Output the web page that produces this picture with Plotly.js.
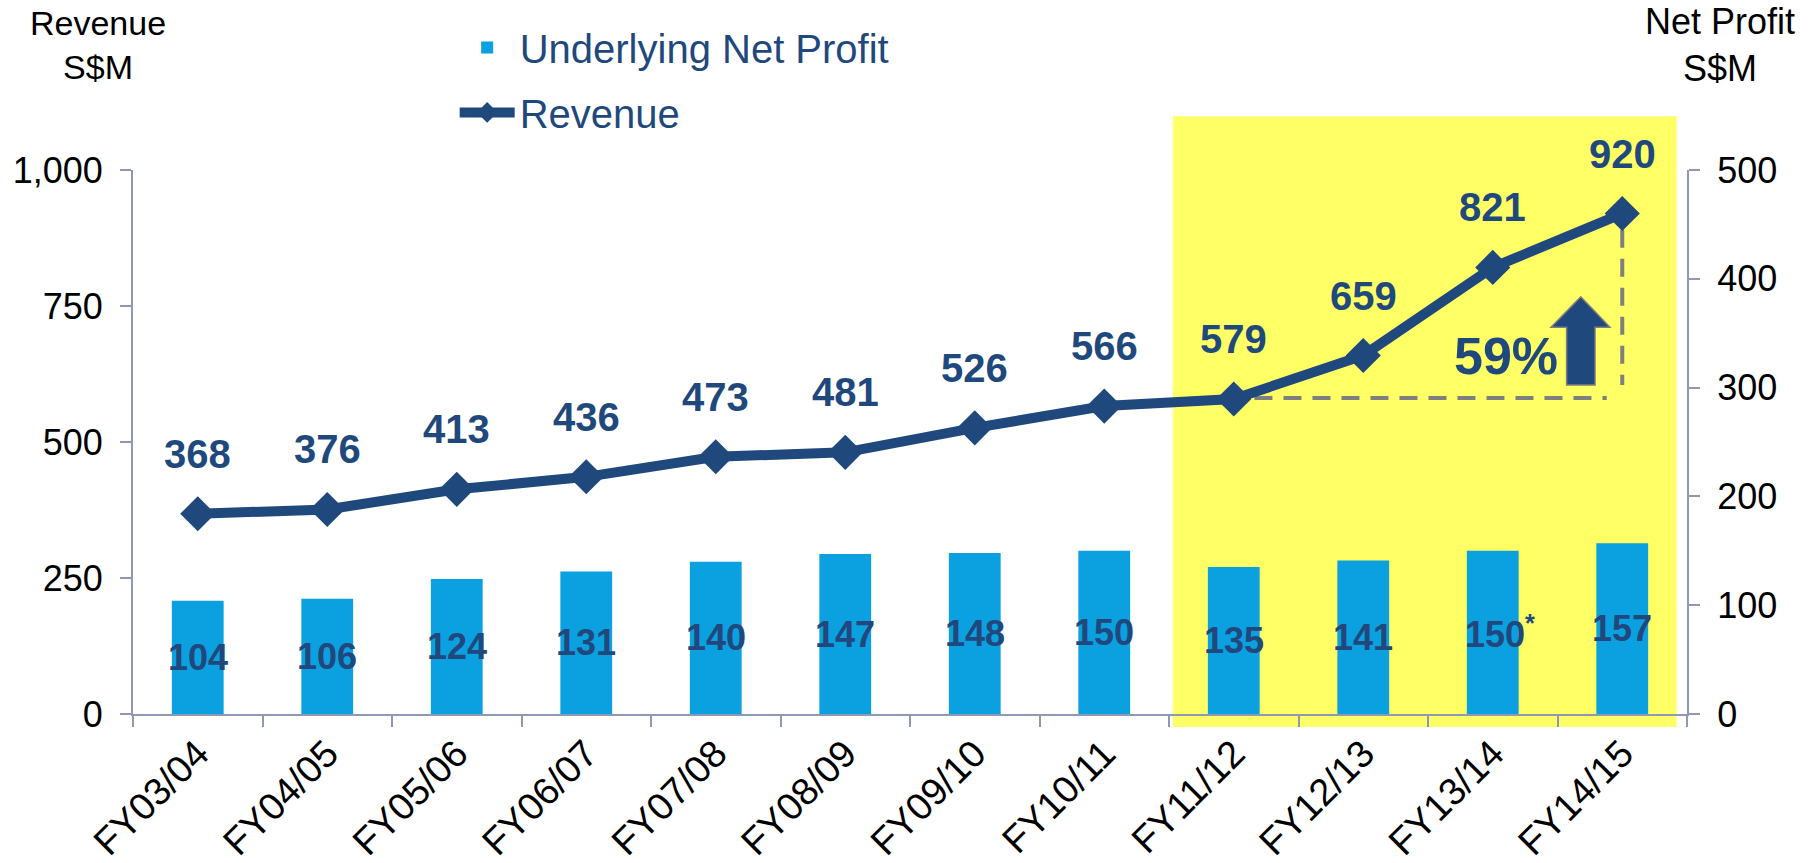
<!DOCTYPE html>
<html>
<head>
<meta charset="utf-8">
<script src="https://cdn.plot.ly/plotly-3.0.1.min.js"></script>
<style>
  html, body { margin: 0; padding: 0; background: #fff; }
  #chart { width: 1817px; height: 863px; }
</style>
</head>
<body>
<div id="chart"></div>
<script>
// Revenue (left axis) and underlying net profit (right axis), S$M
const years = ['FY03/04', 'FY04/05', 'FY05/06', 'FY06/07', 'FY07/08', 'FY08/09',
               'FY09/10', 'FY10/11', 'FY11/12', 'FY12/13', 'FY13/14', 'FY14/15'];
const revenue = [368, 376, 413, 436, 473, 481, 526, 566, 579, 659, 821, 920];
const netProfit = [104, 106, 124, 131, 140, 147, 148, 150, 135, 141, 150, 157];
const profitNotes = ['', '', '', '', '', '', '', '', '', '', '*', ''];
const highlightFrom = 'FY11/12';
const growthText = '59%';

const FONT = 'Liberation Sans, Arial, sans-serif';
const NAVY = '#1f497d';
const BAR_BLUE = '#0ba0df';
const AXIS = '#8f99b5';

const traces = [
    {
        type: 'bar', name: 'Underlying Net Profit', legendgroup: 'a',
        x: years, y: netProfit, yaxis: 'y2', width: 0.4,
        marker: { color: BAR_BLUE },
        hoverinfo: 'skip',
    },
    {
        type: 'scatter', mode: 'lines+markers', name: 'Revenue', legendgroup: 'b',
        x: years, y: revenue,
        line: { color: NAVY, width: 10 },
        marker: { symbol: 'diamond', size: 27, color: NAVY },
        cliponaxis: false,
        hoverinfo: 'skip',
    },
];

const annotations = [];
revenue.forEach((v, i) => annotations.push({
    x: i, y: v, xref: 'x', yref: 'y', yshift: 60, showarrow: false,
    text: String(v), font: { family: FONT, size: 40, color: NAVY, weight: 'bold' },
}));
netProfit.forEach((v, i) => annotations.push({
    x: i, y: v / 2, xref: 'x', yref: 'y2', showarrow: false,
    xshift: profitNotes[i] ? 7 : 0,
    text: v + (profitNotes[i] ? '<sup>' + profitNotes[i] + '</sup>' : ''),
    font: { family: FONT, size: 36, color: '#21477c', weight: 'bold' },
}));
annotations.push(
    { text: 'Revenue<br>S$M', xref: 'paper', yref: 'paper', x: -0.0225, y: 1.23,
      xanchor: 'center', yanchor: 'middle', showarrow: false,
      font: { family: FONT, size: 34, color: '#000' } },
    { text: 'Net Profit<br>S$M', xref: 'paper', yref: 'paper', x: 1.0212, y: 1.23,
      xanchor: 'center', yanchor: 'middle', showarrow: false,
      font: { family: FONT, size: 36, color: '#000' } },
    { text: growthText, xref: 'x', yref: 'y', x: 10.1, y: 658, showarrow: false,
      font: { family: FONT, size: 52, color: NAVY, weight: 'bold' } },
);

const hi = years.indexOf(highlightFrom);
const last = years.length - 1;
const guide = { color: '#7f7f7f', width: 4, dash: '18px,11px' };
const shapes = [
    // yellow highlight behind the recent years
    { type: 'rect', layer: 'below', xref: 'x', yref: 'paper',
      x0: hi - 0.47, x1: last + 0.42, y0: -0.024, y1: 1.099,
      fillcolor: '#ffff66', line: { width: 0 } },
    // dashed growth guides
    { type: 'line', layer: 'below', xref: 'x', yref: 'y',
      x0: hi + 0.16, x1: last - 0.12, y0: revenue[hi] + 2, y1: revenue[hi] + 2, line: guide },
    { type: 'line', layer: 'below', xref: 'x', yref: 'y',
      x0: last, x1: last, y0: revenue[last] - 30, y1: 605, line: guide },
    // block up-arrow
    { type: 'path', layer: 'above', xref: 'x', yref: 'y',
      path: 'M 10.57 605 L 10.57 711 L 10.45 711 L 10.68 767 L 10.905 711 L 10.79 711 L 10.79 605 Z',
      fillcolor: NAVY, line: { color: '#7f7f7f', width: 1.5 } },
];

const axisStyle = {
    showline: true, linecolor: AXIS, linewidth: 2,
    ticks: 'outside', ticklen: 11, tickcolor: AXIS, tickwidth: 2,
    showgrid: false, zeroline: false, fixedrange: true,
    tickfont: { family: FONT, size: 36, color: '#000' },
};

const layout = {
    width: 1817, height: 863,
    paper_bgcolor: 'white', plot_bgcolor: 'rgba(0,0,0,0)',
    margin: { l: 133, r: 130, t: 170, b: 149 },
    font: { family: FONT, color: '#000' },
    showlegend: true,
    legend: {
        x: 0.207, y: 1.285, xanchor: 'left', yanchor: 'top',
        bgcolor: 'rgba(0,0,0,0)', traceorder: 'grouped', tracegroupgap: 10,
        itemwidth: 55, font: { family: FONT, size: 40, color: NAVY },
    },
    xaxis: {
        ...axisStyle, type: 'category', range: [-0.5, 11.5],
        tickson: 'boundaries', tickangle: -45,
        tickfont: { family: FONT, size: 38, color: '#000' },
    },
    yaxis: {
        ...axisStyle, range: [0, 1000], tickvals: [0, 250, 500, 750, 1000],
        tickformat: ',', ticklabelstandoff: 10,
    },
    yaxis2: {
        ...axisStyle, overlaying: 'y', side: 'right', range: [0, 500],
        tickvals: [0, 100, 200, 300, 400, 500], ticklabelstandoff: 10,
    },
    bargap: 0.6,
    shapes, annotations,
};

Plotly.newPlot('chart', traces, layout, { displayModeBar: false, staticPlot: true });
</script>
</body>
</html>
